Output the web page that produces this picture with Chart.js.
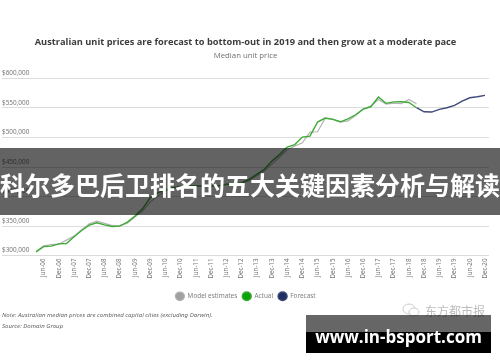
<!DOCTYPE html>
<html>
<head>
<meta charset="utf-8">
<script src="https://cdn.jsdelivr.net/npm/chart.js@4"></script>
<style>
html, body { margin: 0; padding: 0; background: #fff; }
#wrap { position: relative; width: 500px; height: 362px; overflow: hidden; }
canvas { position: absolute; left: 0; top: 0; filter: blur(0.35px); }
.note { position: absolute; left: 2px; font: italic 6.1px "Noto Sans", sans-serif; color: #666; white-space: nowrap; }
#banner { position: absolute; left: 0; top: 148px; width: 500px; height: 67px; background: rgba(0,0,0,.61); }
#bannerText { position: absolute; left: -2px; top: 148px; width: 504px; height: 67px; text-align: center; white-space: nowrap; color: #fff; font: bold 25px "Noto Sans CJK SC", sans-serif; line-height: 72px; }
#mark { position: absolute; left: 425px; top: 302px; font: 12px "Noto Sans CJK SC", sans-serif; color: #bdbdbd; white-space: nowrap; }
#icon { position: absolute; left: 402px; top: 303px; }
#siteTop { position: absolute; left: 306px; top: 315px; width: 185px; height: 17px; background: rgba(0,0,0,.6); }
#siteBottom { position: absolute; left: 306px; top: 332px; width: 185px; height: 21px; background: #000; }
#siteText { position: absolute; left: 306px; top: 325px; width: 185px; text-align: center; color: #fff; font: bold 17px "Open Sans", sans-serif; white-space: nowrap; }
</style>
</head>
<body>
<div id="wrap">
  <canvas id="chart" width="500" height="362"></canvas>
  <div class="note" style="top:310px">Note: Australian median prices are combined capital cities (excluding Darwin).</div>
  <div class="note" style="top:321px">Source: Domain Group</div>
  <svg id="icon" width="18" height="14"><ellipse cx="7" cy="6" rx="6" ry="5" fill="none" stroke="#ccc"/><ellipse cx="12" cy="9" rx="5" ry="4" fill="#fff" stroke="#ccc"/></svg>
  <div id="mark">东方都市报</div>
  <div id="banner"></div>
  <div id="bannerText">科尔多巴后卫排名的五大关键因素分析与解读</div>
  <div id="siteTop"></div>
  <div id="siteBottom"></div>
  <div id="siteText">www.in-bsport.com</div>
</div>
<script>
// half-yearly axis labels, the data itself is quarterly starting Mar-06
const tickLabels = ['Jun-06', 'Dec-06', 'Jun-07', 'Dec-07', 'Jun-08', 'Dec-08', 'Jun-09', 'Dec-09', 'Jun-10', 'Dec-10',
    'Jun-11', 'Dec-11', 'Jun-12', 'Dec-12', 'Jun-13', 'Dec-13', 'Jun-14', 'Dec-14', 'Jun-15', 'Dec-15',
    'Jun-16', 'Dec-16', 'Jun-17', 'Dec-17', 'Jun-18', 'Dec-18', 'Jun-19', 'Dec-19', 'Jun-20', 'Dec-20']
const yTicks = [300000, 350000, 400000, 450000, 500000, 550000, 600000]

const modelValues = [306300, 316500, 318500, 319300, 326100, 332900, 343900, 353700, 358300, 354400,
    350700, 350700, 354900, 365100, 375300, 390500, 400700, 409200, 413400, 415900,
    417000, 417500, 418000, 417000, 418500, 420000, 421000, 422500, 427000, 435000,
    443000, 455000, 466500, 479200, 485400, 491000, 509200, 509700, 532400, 531200,
    526100, 528100, 537100, 548100, 553200, 564300, 556600, 558300, 557500, 564300, 557100]
const actualValues = [306300, 315100, 315900, 319800, 320500, 331700, 342500, 351500, 355400, 352000,
    349300, 349800, 356600, 366800, 379200, 397800, 406300, 411400, 414800, 417100,
    418100, 418100, 418100, 418100, 418100, 421000, 421500, 423200, 429000, 437500,
    446000, 460000, 471000, 483700, 488000, 500700, 502400, 526100, 532900, 530700,
    526600, 531700, 538500, 548100, 552000, 568500, 557800, 560400, 560500, 559200, 550400]
const forecastValues = [550400, 543600, 543100, 547600, 550400, 554400, 561700, 567300, 569000, 571400]
const forecastStart = 50
const legendOrder = ['Model estimates', 'Actual', 'Forecast']

const toPoints = (values, start) => values.map((y, i) => ({ x: start + i, y: y }))

const ctx = document.getElementById('chart').getContext('2d')
new Chart(ctx, {
    type: 'line',
    data: {
        datasets: [
            { label: 'Actual', data: toPoints(actualValues, 0), borderColor: '#3fab37', backgroundColor: '#0aa30a', borderWidth: 1.4, pointRadius: 0, tension: 0 },
            { label: 'Forecast', data: toPoints(forecastValues, forecastStart), borderColor: '#3d4a7a', backgroundColor: '#1f2f63', borderWidth: 1.4, pointRadius: 0, tension: 0 },
            { label: 'Model estimates', data: toPoints(modelValues, 0), borderColor: '#b4b4b4', backgroundColor: '#a0a0a0', borderWidth: 1.2, pointRadius: 0, tension: 0 }
        ]
    },
    options: {
        responsive: false,
        animation: false,
        layout: { padding: { left: 2, right: 11, bottom: 52.5 } },
        plugins: {
            title: {
                display: true,
                text: 'Australian unit prices are forecast to bottom-out in 2019 and then grow at a moderate pace',
                color: '#3c3c3c',
                font: { family: '"Open Sans"', size: 9.25, weight: 'bold' },
                padding: { top: 37, bottom: 3 }
            },
            subtitle: {
                display: true,
                text: 'Median unit price',
                color: '#707070',
                font: { family: '"Open Sans"', size: 7.8 },
                padding: { bottom: 18 }
            },
            legend: {
                position: 'bottom',
                labels: {
                    usePointStyle: true,
                    pointStyle: 'circle',
                    boxHeight: 6,
                    pointStyleWidth: 9,
                    color: '#808080',
                    font: { family: '"Noto Sans"', size: 6.4 },
                    padding: 5,
                    sort: (a, b) => legendOrder.indexOf(a.text) - legendOrder.indexOf(b.text)
                }
            },
            tooltip: { enabled: false }
        },
        scales: {
            x: {
                type: 'linear',
                min: -4.47,
                max: 59.53,
                grid: { display: false, drawTicks: false },
                border: { display: false },
                afterBuildTicks: axis => {
                    axis.ticks = tickLabels.map((t, i) => ({ value: 1 + i * 2 }))
                },
                afterFit: axis => {
                    axis.height += 6.5
                },
                ticks: {
                    autoSkip: false,
                    minRotation: 90,
                    maxRotation: 90,
                    color: '#777',
                    font: { family: '"Noto Sans"', size: 6.2 },
                    padding: 3,
                    callback: value => tickLabels[(value - 1) / 2]
                }
            },
            y: {
                min: yTicks[0],
                max: yTicks[yTicks.length - 1],
                afterBuildTicks: axis => {
                    axis.ticks = yTicks.map(v => ({ value: v }))
                },
                grid: { color: '#dcdcdc', lineWidth: 1, drawTicks: false },
                border: { display: false },
                ticks: {
                    mirror: true,
                    padding: 0,
                    labelOffset: -5,
                    color: '#777',
                    font: { family: '"Noto Sans"', size: 6.4 },
                    callback: value => '$' + value.toLocaleString('en-US')
                }
            }
        }
    }
})
</script>
</body>
</html>
